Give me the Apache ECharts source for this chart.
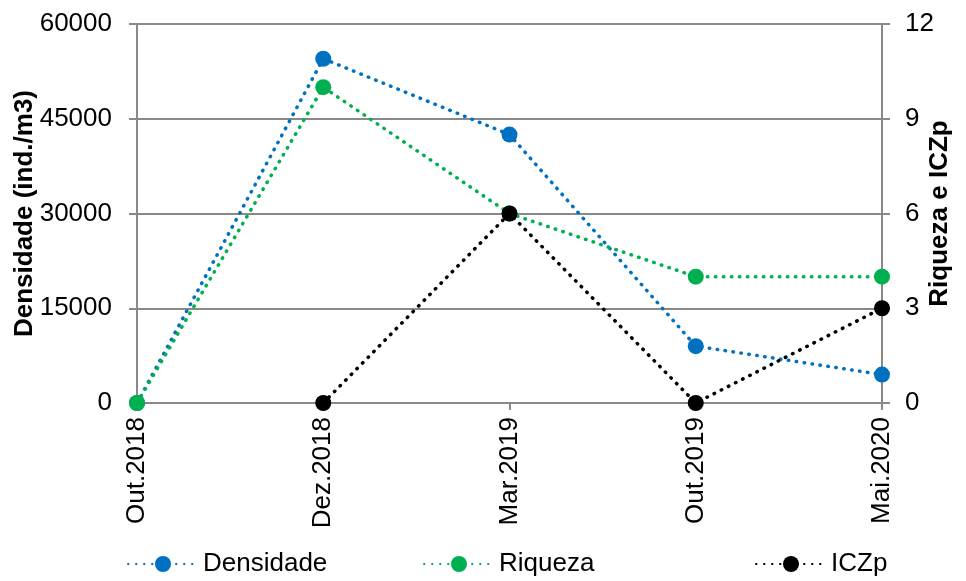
<!DOCTYPE html>
<html>
<head>
<meta charset="utf-8">
<script src="https://cdn.jsdelivr.net/npm/echarts@6/dist/echarts.min.js"></script>
<style>
  html, body { margin: 0; padding: 0; background: #fff; }
  #chart { width: 966px; height: 581px; }
</style>
</head>
<body>
<div id="chart"></div>
<script>
var categories = ['Out.2018', 'Dez.2018', 'Mar.2019', 'Out.2019', 'Mai.2020'];
var densidade = [0, 54500, 42500, 9000, 4500];
var riqueza = [0, 10, 6, 4, 4];
var iczp = [null, 0, 6, 0, 3];

var font = 'Liberation Sans, Arial, sans-serif';
var gridColor = '#898989';
var fs = 26;

var chart = echarts.init(document.getElementById('chart'));

function lineSeries(name, color, data, yIdx) {
  return {
    name: name,
    type: 'line',
    yAxisIndex: yIdx,
    data: data,
    symbol: 'circle',
    symbolSize: 16,
    connectNulls: false,
    itemStyle: { color: color },
    lineStyle: { color: color, width: 3.5, type: [0.5, 7.5], cap: 'round' },
    emphasis: { disabled: true },
    animation: false
  };
}

function legendAt(left, name) {
  return {
    data: [name],
    left: left,
    top: 546,
    itemWidth: 70,
    itemHeight: 20,
    itemGap: 0,
    textStyle: { fontFamily: font, fontSize: fs, color: '#000' },
    selectedMode: false
  };
}

var option = {
  backgroundColor: '#fff',
  textStyle: { fontFamily: font },
  grid: { left: 137, right: 84, top: 24, bottom: 178, containLabel: false, outerBoundsMode: 'none' },
  legend: [
    legendAt(122, 'Densidade'),
    legendAt(418, 'Riqueza'),
    legendAt(750, 'ICZp')
  ],
  xAxis: {
    type: 'category',
    data: categories,
    boundaryGap: false,
    axisLine: { lineStyle: { color: gridColor, width: 2 } },
    axisTick: { show: true, length: 7, lineStyle: { color: gridColor, width: 2 } },
    axisLabel: { rotate: 90, margin: 14, fontSize: fs, color: '#000', fontFamily: font }
  },
  yAxis: [
    {
      type: 'value',
      min: 0, max: 60000, interval: 15000,
      position: 'left',
      name: 'Densidade (ind./m3)',
      nameLocation: 'middle',
      nameMoveOverlap: false,
      nameGap: 99,
      nameRotate: 90,
      nameTextStyle: { fontSize: fs, fontWeight: 'bold', color: '#000', fontFamily: font },
      axisLine: { show: true, lineStyle: { color: gridColor, width: 2 } },
      axisTick: { show: true, length: 8, lineStyle: { color: gridColor, width: 2 } },
      axisLabel: { margin: 25, fontSize: fs, color: '#000', fontFamily: font,
        formatter: function (v) { return String(v); } },
      splitLine: { show: true, lineStyle: { color: gridColor, width: 2 } }
    },
    {
      type: 'value',
      min: 0, max: 12, interval: 3,
      position: 'right',
      name: 'Riqueza e ICZp',
      nameLocation: 'middle',
      nameMoveOverlap: false,
      nameGap: 45,
      nameRotate: 90,
      nameTextStyle: { fontSize: fs, fontWeight: 'bold', color: '#000', fontFamily: font },
      axisLine: { show: true, lineStyle: { color: gridColor, width: 2 } },
      axisTick: { show: true, length: 8, lineStyle: { color: gridColor, width: 2 } },
      axisLabel: { margin: 23, fontSize: fs, color: '#000', fontFamily: font },
      splitLine: { show: false }
    }
  ],
  series: [
    lineSeries('Densidade', '#0070C0', densidade, 0),
    lineSeries('Riqueza', '#00B050', riqueza, 1),
    lineSeries('ICZp', '#000000', iczp, 1)
  ]
};

chart.setOption(option);
</script>
</body>
</html>
